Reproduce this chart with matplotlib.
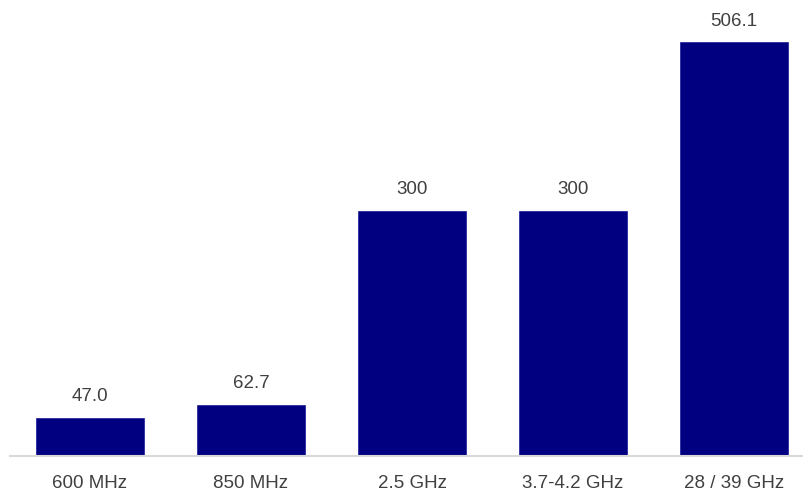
import matplotlib
matplotlib.use("Agg")
import matplotlib.pyplot as plt

categories = ["600 MHz", "850 MHz", "2.5 GHz", "3.7-4.2 GHz", "28 / 39 GHz"]
values = [47.0, 62.7, 300, 300, 506.1]
value_labels = ["47.0", "62.7", "300", "300", "506.1"]

bar_color = "#000080"
text_color = "#404040"

plt.rcParams["font.family"] = ["Liberation Sans", "DejaVu Sans"]

W, H = 804, 494
fig = plt.figure(figsize=(W / 100, H / 100), dpi=100)
# axes spans from the baseline up; bars are 161 px apart, first centred at x=90
ax = fig.add_axes([9.5 / W, 38 / H, (W - 9.5) / W, 456 / H])
x = list(range(len(categories)))
ax.bar(x, values, width=108 / 161, color=bar_color, edgecolor="#1a1a99", linewidth=0.5)
ax.set_xlim(-0.5, (W - 90) / 161)
ax.set_ylim(0, 456 / 0.818)

for xi, v, lab in zip(x, values, value_labels):
    ax.annotate(lab, (xi, v), xytext=(0, 9), textcoords="offset points",
                ha="center", va="bottom", fontsize=13.5, color=text_color)

for s in ["top", "right", "left"]:
    ax.spines[s].set_visible(False)
ax.spines["bottom"].set_color("#d9d9d9")
ax.spines["bottom"].set_linewidth(1.5)
ax.set_yticks([])
ax.set_xticks(x)
ax.set_xticklabels(categories, fontsize=13.5, color=text_color)
ax.tick_params(axis="x", length=0, pad=14)

fig.savefig("out.png", dpi=100)
